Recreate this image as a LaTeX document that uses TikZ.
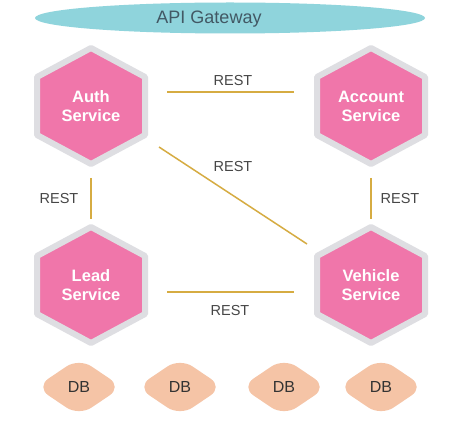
\documentclass[tikz,border=0pt]{standalone}
\usepackage{fontspec}
\setmainfont{Liberation Sans}
\usetikzlibrary{calc}
\definecolor{hexpink}{RGB}{240,118,170}
\definecolor{hexgray}{RGB}{222,222,226}
\definecolor{gwteal}{RGB}{143,212,220}
\definecolor{gwtext}{RGB}{66,88,100}
\definecolor{linegold}{RGB}{214,172,66}
\definecolor{dbpeach}{RGB}{245,196,166}
\definecolor{labelgray}{RGB}{70,70,70}
\newcommand\hexat[4]{%
  \path[fill=hexpink,draw=hexgray,line width=6pt,line join=round,shift={(#1,#2)}]
    (0,-58) -- (54,-29) -- (54,29) -- (0,58) -- (-54,29) -- (-54,-29) -- cycle;
  \node[svc] (#3) at (#1,#2) {#4};}
\newcommand\dbat[3]{%
  \path[fill=dbpeach,rounded corners=15pt,shift={(#1,#2)}]
    (-43,0) -- (0,-29) -- (43,0) -- (0,29) -- cycle;
  \node[dbtext] (#3) at (#1,#2) {DB};}
\begin{document}
\begin{tikzpicture}[x=1pt,y=-1pt,
  svc/.style={text=white,font=\fontsize{16.5}{19}\selectfont\bfseries,align=center,inner sep=0pt},
  rest/.style={text=labelgray,font=\fontsize{14.5}{16}\selectfont,inner sep=0pt},
  link/.style={draw=linegold,line width=1.5pt},
  dbtext/.style={text=black!80,font=\fontsize{16}{17}\selectfont,inner sep=0pt},
  gwlabel/.style={text=gwtext,font=\fontsize{18}{20}\selectfont,inner sep=0pt}]
\fill[white] (0,0) rectangle (462,438);
\useasboundingbox (0,0) rectangle (462,438);
% gateway
\fill[gwteal] (230,18) ellipse [x radius=195pt, y radius=15.5pt];
\node[gwlabel] (gw) at (209,19) {API Gateway};
% services
\hexat{91}{106}{auth}{Auth\\Service}
\hexat{371}{106}{account}{Account\\Service}
\hexat{91}{285}{lead}{Lead\\Service}
\hexat{371}{285}{vehicle}{Vehicle\\Service}
% links
\draw[link] ([shift={(76pt,14pt)}]auth.center) -- ([shift={(-77pt,14pt)}]account.center);
\draw[link] ([shift={(68pt,-41pt)}]auth.center) -- ([shift={(-64pt,41pt)}]vehicle.center);
\draw[link] ([yshift=-72pt]auth.center) -- ([yshift=66pt]lead.center);
\draw[link] ([yshift=-72pt]account.center) -- ([yshift=66pt]vehicle.center);
\draw[link] ([shift={(76pt,-7pt)}]lead.center) -- ([shift={(-77pt,-7pt)}]vehicle.center);
% labels
\node[rest] (r1) at (233,81) {REST};
\node[rest] (r2) at (233,167) {REST};
\node[rest] (r3) at (59,199) {REST};
\node[rest] (r4) at (400,199) {REST};
\node[rest] (r5) at (230,311) {REST};
% databases
\dbat{79}{387}{db1}
\dbat{180}{387}{db2}
\dbat{284}{387}{db3}
\dbat{381}{387}{db4}
\end{tikzpicture}
\end{document}
